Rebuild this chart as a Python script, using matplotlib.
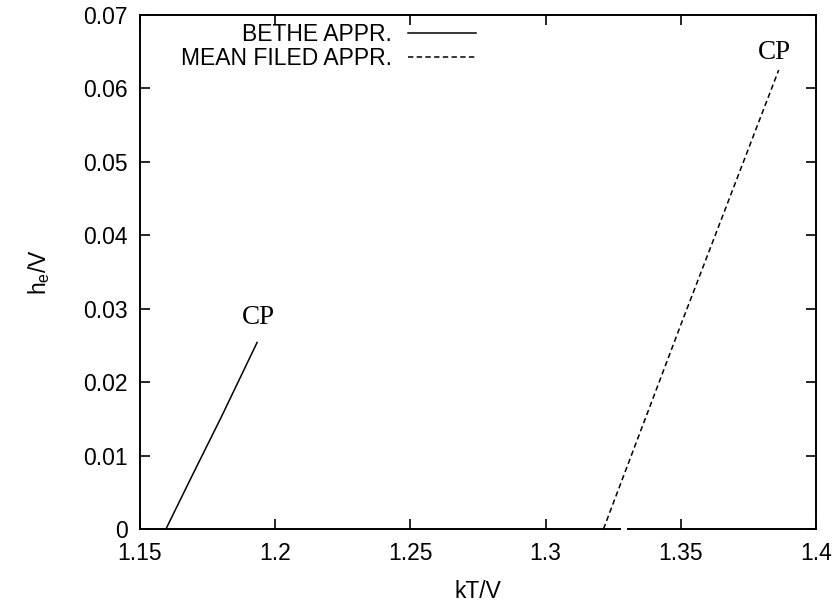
#!/usr/bin/env python3
"""Critical lines h_e/V vs kT/V for the Bethe and mean-field approximations."""

import matplotlib

matplotlib.use("Agg")
import matplotlib.pyplot as plt

plt.rcParams["font.family"] = ["Liberation Sans", "DejaVu Sans"]
plt.rcParams["mathtext.default"] = "regular"

# Bethe approximation: field vs temperature up to the critical point
BETHE_KT = [1.1596, 1.1700, 1.1800, 1.1933]
BETHE_H = [0.0000, 0.0078, 0.0152, 0.0254]

# Mean-field approximation
MEAN_KT = [1.3214, 1.3500, 1.3862]
MEAN_H = [0.0000, 0.0278, 0.0625]

X_TICKS = [1.15, 1.2, 1.25, 1.3, 1.35, 1.4]
X_TICK_LABELS = ["1.15", "1.2", "1.25", "1.3", "1.35", "1.4"]
Y_TICKS = [0, 0.01, 0.02, 0.03, 0.04, 0.05, 0.06, 0.07]
Y_TICK_LABELS = ["0", "0.01", "0.02", "0.03", "0.04", "0.05", "0.06", "0.07"]

FS = 16.5

fig = plt.figure(figsize=(8.38, 6.04), dpi=100)
ax = fig.add_axes([140 / 838, 1 - 529 / 604, 676 / 838, 514 / 604])

ax.plot(BETHE_KT, BETHE_H, color="black", linewidth=1.1, label="BETHE APPR.")
ax.plot(MEAN_KT, MEAN_H, color="black", linewidth=1.1,
        linestyle=(0, (3.5, 2.2)), label="MEAN FILED APPR.")

# critical point labels above the line ends
ax.annotate("CP", (BETHE_KT[-1], BETHE_H[-1]), xytext=(1, 25),
            textcoords="offset pixels", ha="center", va="center",
            family="Liberation Serif", fontsize=19.5)
ax.annotate("CP", (MEAN_KT[-1], MEAN_H[-1]), xytext=(-4, 18),
            textcoords="offset pixels", ha="center", va="center",
            family="Liberation Serif", fontsize=19.5)

ax.set_xlim(1.15, 1.4)
ax.set_ylim(0, 0.07)
ax.set_xticks(X_TICKS, X_TICK_LABELS)
ax.set_yticks(Y_TICKS, Y_TICK_LABELS)
ax.tick_params(direction="in", length=7, width=1.2, top=True, right=True,
               labelsize=FS, pad=9)
for spine in ax.spines.values():
    spine.set_linewidth(1.4)

# small break in the bottom axis line
ax.plot([1.3278, 1.3300], [0, 0], color="white", linewidth=3,
        solid_capstyle="butt", clip_on=False, zorder=5)

ax.set_xlabel("kT/V", fontsize=FS, labelpad=11)
ax.set_ylabel("h$_e$/V", fontsize=FS, labelpad=22)

ax.legend(loc="upper right", bbox_to_anchor=(0.497, 0.985), frameon=False,
          markerfirst=False, fontsize=FS, handlelength=2.95,
          handletextpad=0.72, labelspacing=0.05, borderpad=0,
          borderaxespad=0)

fig.savefig("out.png", dpi=100)
